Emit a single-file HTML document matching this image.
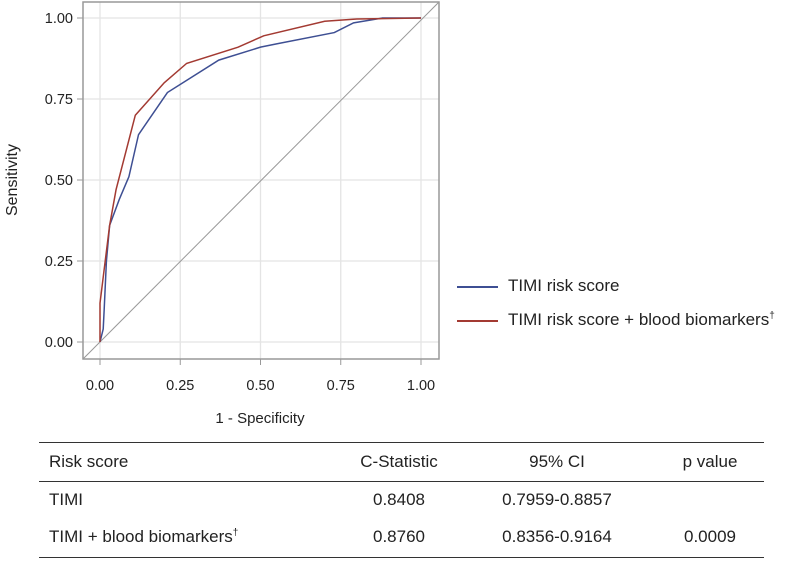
<!DOCTYPE html>
<html><head><meta charset="utf-8"><style>
body{margin:0;background:#fff;width:797px;height:561px;overflow:hidden;font-family:"Liberation Sans",sans-serif;}
svg{display:block}
</style></head><body>
<svg id="c" width="797" height="561" font-family="Liberation Sans, sans-serif"></svg>
<script>
const xTicks=[0,0.25,0.5,0.75,1];
const yTicks=[0,0.25,0.5,0.75,1];
const tickLabels=["0.00","0.25","0.50","0.75","1.00"];
const timiX=[0,0.01,0.013,0.02,0.03,0.06,0.09,0.12,0.21,0.37,0.5,0.55,0.73,0.79,0.88,1];
const timiY=[0,0.04,0.1,0.25,0.36,0.44,0.51,0.64,0.77,0.87,0.91,0.92,0.955,0.985,1,1];
const bioX=[0,0,0.01,0.03,0.05,0.11,0.2,0.27,0.43,0.51,0.7,0.8,1];
const bioY=[0,0.12,0.2,0.36,0.47,0.70,0.80,0.86,0.91,0.945,0.99,0.997,1];
const NS="http://www.w3.org/2000/svg";
const svg=document.getElementById('c');
const sx=v=>100+v*321, sy=v=>342-v*324;
function mk(t,a,p){const e=document.createElementNS(NS,t);for(const k in a)e.setAttribute(k,a[k]);(p||svg).appendChild(e);return e;}
const grid=mk('g',{});


xTicks.forEach(v=>{mk('line',{x1:sx(v),x2:sx(v),y1:2,y2:359,stroke:'#e4e4e4','stroke-width':1.3},grid);});
yTicks.forEach(v=>{mk('line',{x1:83,x2:439,y1:sy(v),y2:sy(v),stroke:'#e4e4e4','stroke-width':1.3},grid);});
const diag=mk('line',{x1:83,y1:359,x2:439,y2:2,stroke:'#999','stroke-width':1});


function series(xs,ys,col,name){const p=mk('polyline',{points:xs.map((x,i)=>sx(x)+','+sy(ys[i])).join(' '),fill:'none',stroke:col,'stroke-width':1.5});

}
series(timiX,timiY,'#3e4f93','timi-line');
series(bioX,bioY,'#a33a32','timi-biomarkers-line');
const fr=mk('rect',{x:83,y:2,width:356,height:357,fill:'none',stroke:'#999','stroke-width':1.5});


xTicks.forEach((v,i)=>{mk('line',{x1:sx(v),x2:sx(v),y1:359,y2:365,stroke:'#999'});
const t=mk('text',{x:sx(v),y:390,'text-anchor':'middle','font-size':14.5,fill:'#222'});t.textContent=tickLabels[i];

});
yTicks.forEach((v,i)=>{mk('line',{x1:77,x2:83,y1:sy(v),y2:sy(v),stroke:'#999'});
const t=mk('text',{x:73,y:sy(v)+5,'text-anchor':'end','font-size':14.5,fill:'#222'});t.textContent=tickLabels[i];

});
</script>
<div style="position:absolute;left:0;top:0;width:797px;height:561px;font-size:17px;color:#222">
<div style="position:absolute;left:180px;width:160px;text-align:center;top:410px;font-size:15px">1 - Specificity</div>
<div style="position:absolute;left:-42px;top:171px;width:110px;text-align:center;transform:rotate(-90deg);font-size:16px">Sensitivity</div>
<div>
<div style="position:absolute;left:457px;top:276px;white-space:nowrap"><span style="display:inline-block;width:41px;border-top:2px solid #3e4f93;vertical-align:middle;margin-right:10px"></span>TIMI risk score</div>
<div style="position:absolute;left:457px;top:310px;white-space:nowrap"><span style="display:inline-block;width:41px;border-top:2px solid #a33a32;vertical-align:middle;margin-right:10px"></span>TIMI risk score + blood biomarkers<sup style="font-size:10px">†</sup></div>
</div>
<div>
<div style="position:absolute;left:39px;width:725px;top:442px;border-top:1.5px solid #333"></div>
<div style="position:absolute;left:39px;width:725px;top:481px;border-top:1.5px solid #333"></div>
<div style="position:absolute;left:39px;width:725px;top:557px;border-top:1.5px solid #333"></div>
<div style="position:absolute;left:49px;top:452px">Risk score</div>
<div style="position:absolute;left:339px;width:120px;text-align:center;top:452px">C-Statistic</div>
<div style="position:absolute;left:497px;width:120px;text-align:center;top:452px">95% CI</div>
<div style="position:absolute;left:650px;width:120px;text-align:center;top:452px">p value</div>
<div style="position:absolute;left:49px;top:490px">TIMI</div>
<div style="position:absolute;left:339px;width:120px;text-align:center;top:490px">0.8408</div>
<div style="position:absolute;left:497px;width:120px;text-align:center;top:490px">0.7959-0.8857</div>
<div style="position:absolute;left:49px;top:527px">TIMI + blood biomarkers<sup style="font-size:10px">†</sup></div>
<div style="position:absolute;left:339px;width:120px;text-align:center;top:527px">0.8760</div>
<div style="position:absolute;left:497px;width:120px;text-align:center;top:527px">0.8356-0.9164</div>
<div style="position:absolute;left:650px;width:120px;text-align:center;top:527px">0.0009</div>
</div>
</div>
</body></html>
